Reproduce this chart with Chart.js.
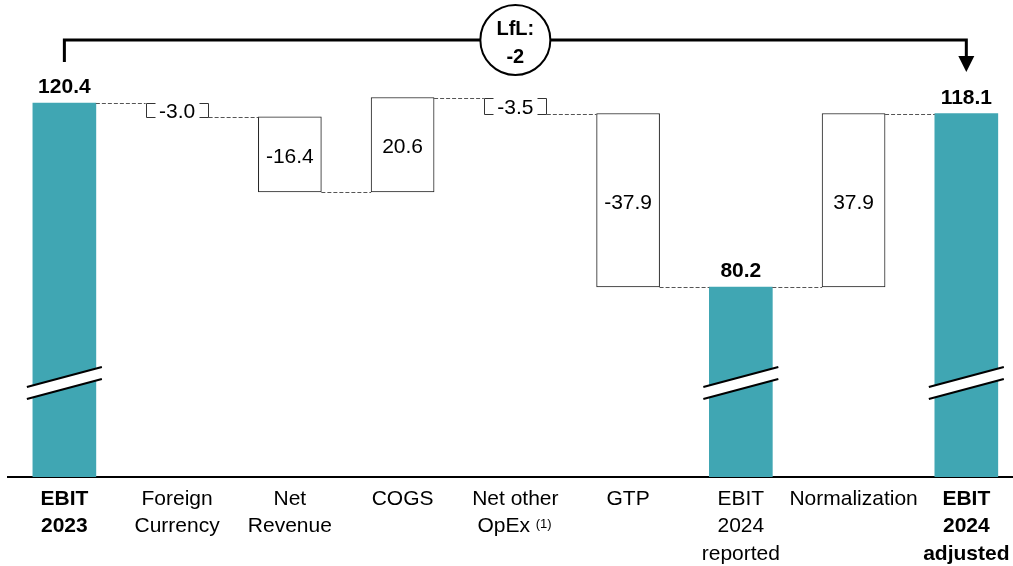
<!DOCTYPE html>
<html>
<head>
<meta charset="utf-8">
<script src="https://cdn.jsdelivr.net/npm/chart.js@4"></script>
<style>
  html, body { margin: 0; padding: 0; background: #fff; }
  #wrap { width: 1013px; height: 566px; }
</style>
</head>
<body>
<div id="wrap"><canvas id="ebit"></canvas></div>
<script>
var categories = [['EBIT', '2023'], ['Foreign', 'Currency'], ['Net', 'Revenue'], ['COGS'], ['Net other', 'OpEx'], ['GTP'], ['EBIT', '2024', 'reported'], ['Normalization'], ['EBIT', '2024', 'adjusted']];
var values = [120.4, -3.0, -16.4, 20.6, -3.5, -37.9, 80.2, 37.9, 118.1];
var kinds = ['total', 'bracket', 'step', 'step', 'bracket', 'step', 'total', 'step', 'total'];
var valueLabels = ['120.4', '-3.0', '-16.4', '20.6', '-3.5', '-37.9', '80.2', '37.9', '118.1'];
var lflLabel = ['LfL:', '-2'];
var footnote = '(1)';
var footnoteAt = 4;
var boldTicks = [0, 8];

var FONT = '"Liberation Sans", Arial, Helvetica, sans-serif';
var TEAL = '#40a6b3';

// floating ranges for the waterfall, running level after each bar
var ranges = [];
var ends = [];
var level = 0;
values.forEach(function (v, i) {
  if (kinds[i] === 'total') {
    ranges.push({ x: i, y: [0, v] });
    level = v;
  } else {
    ranges.push({ x: i, y: [level, level + v] });
    level = level + v;
  }
  ends.push(level);
});

var fills = { total: TEAL, step: '#ffffff', bracket: 'rgba(0,0,0,0)' };

var decor = {
  id: 'decor',
  afterDraw: function (chart) {
    var ctx = chart.ctx;
    var ys = chart.scales.y, xs = chart.scales.x, area = chart.chartArea;
    var bars = chart.getDatasetMeta(0).data;
    ctx.save();

    // dashed connectors
    ctx.strokeStyle = '#555';
    ctx.lineWidth = 1;
    ctx.setLineDash([4, 2]);
    for (var i = 0; i < bars.length - 1; i++) {
      var py = Math.round(ys.getPixelForValue(ends[i])) + 0.5;
      ctx.beginPath();
      ctx.moveTo(bars[i].x + bars[i].width / 2, py);
      ctx.lineTo(bars[i + 1].x - bars[i + 1].width / 2, py);
      ctx.stroke();
    }
    ctx.setLineDash([]);

    bars.forEach(function (bar, i) {
      var r = ranges[i].y;
      var top = ys.getPixelForValue(Math.max(r[0], r[1]));
      var bottom = ys.getPixelForValue(Math.min(r[0], r[1]));
      var left = bar.x - bar.width / 2, right = bar.x + bar.width / 2;
      ctx.textAlign = 'center';
      ctx.textBaseline = 'alphabetic';
      if (kinds[i] === 'total') {
        // axis break marks
        var yc = area.bottom - 94, dx = bar.width / 2 + 6, dy = 10, gap = 6;
        ctx.fillStyle = '#fff';
        ctx.beginPath();
        ctx.moveTo(bar.x - dx, yc - gap + dy);
        ctx.lineTo(bar.x + dx, yc - gap - dy);
        ctx.lineTo(bar.x + dx, yc + gap - dy);
        ctx.lineTo(bar.x - dx, yc + gap + dy);
        ctx.closePath();
        ctx.fill();
        ctx.strokeStyle = '#000';
        ctx.lineWidth = 2;
        ctx.beginPath();
        ctx.moveTo(bar.x - dx, yc - gap + dy);
        ctx.lineTo(bar.x + dx, yc - gap - dy);
        ctx.moveTo(bar.x - dx, yc + gap + dy);
        ctx.lineTo(bar.x + dx, yc + gap - dy);
        ctx.stroke();
        ctx.fillStyle = '#000';
        ctx.font = 'bold 21px ' + FONT;
        ctx.fillText(valueLabels[i], bar.x, top - 10);
      } else {
        if (kinds[i] === 'bracket') {
          var L = Math.round(left) + 0.5, R = Math.round(right) - 0.5;
          var T = Math.round(top) + 0.5, B = Math.round(bottom) + 0.5;
          ctx.strokeStyle = '#333';
          ctx.lineWidth = 1;
          ctx.beginPath();
          ctx.moveTo(L + 9, T); ctx.lineTo(L, T); ctx.lineTo(L, B); ctx.lineTo(L + 9, B);
          ctx.moveTo(R - 9, T); ctx.lineTo(R, T); ctx.lineTo(R, B); ctx.lineTo(R - 9, B);
          ctx.stroke();
        }
        ctx.fillStyle = '#000';
        ctx.font = '21px ' + FONT;
        ctx.fillText(valueLabels[i], bar.x, (top + bottom) / 2 + 8.5);
      }
    });

    // footnote marker after "OpEx"
    var lines = categories[footnoteAt];
    var last = lines[lines.length - 1];
    ctx.font = '21px ' + FONT;
    var full = ctx.measureText(last + '    ').width;
    var sx = bars[footnoteAt].x - full / 2 + ctx.measureText(last + ' ').width;
    var sy = xs.top + 8 + 21 * 1.31 * (lines.length - 0.5);
    ctx.font = '13px ' + FONT;
    ctx.textAlign = 'left';
    ctx.textBaseline = 'middle';
    ctx.fillStyle = '#000';
    ctx.fillText(footnote, sx, sy - 2);

    // LfL bracket on top
    var xl = bars[0].x, xr = bars[bars.length - 1].x, ly = area.top + 40;
    ctx.strokeStyle = '#000';
    ctx.lineWidth = 3;
    ctx.beginPath();
    ctx.moveTo(xl, area.top + 62);
    ctx.lineTo(xl, ly);
    ctx.lineTo(xr, ly);
    ctx.lineTo(xr, ly + 17);
    ctx.stroke();
    ctx.beginPath();
    ctx.moveTo(xr - 8, ly + 16);
    ctx.lineTo(xr + 8, ly + 16);
    ctx.lineTo(xr, ly + 32);
    ctx.closePath();
    ctx.fillStyle = '#000';
    ctx.fill();
    var cm = (xl + xr) / 2;
    ctx.beginPath();
    ctx.arc(cm, ly, 35, 0, Math.PI * 2);
    ctx.fillStyle = '#fff';
    ctx.fill();
    ctx.lineWidth = 2;
    ctx.stroke();
    ctx.fillStyle = '#000';
    ctx.font = 'bold 20px ' + FONT;
    ctx.textAlign = 'center';
    ctx.textBaseline = 'alphabetic';
    ctx.fillText(lflLabel[0], cm, ly - 5);
    ctx.fillText(lflLabel[1], cm, ly + 23);
    ctx.restore();
  }
};

var ctx = document.getElementById('ebit').getContext('2d');
var chart = new Chart(ctx, {
  type: 'bar',
  data: {
    datasets: [{
      label: 'EBIT',
      data: ranges,
      backgroundColor: function (c) { return fills[kinds[c.dataIndex]]; },
      borderColor: '#222',
      borderWidth: function (c) { return kinds[c.dataIndex] === 'step' ? 1 : 0; },
      borderSkipped: false,
      barThickness: 63
    }]
  },
  options: {
    responsive: true,
    maintainAspectRatio: false,
    animation: false,
    layout: { padding: { left: 8, right: 0, top: 0, bottom: 0 } },
    plugins: { legend: { display: false }, tooltip: { enabled: false } },
    scales: {
      x: {
        type: 'linear',
        min: -0.5,
        max: 8.414,
        offset: false,
        grid: { display: false, drawTicks: false },
        border: { display: true, color: '#000', width: 2 },
        afterBuildTicks: function (scale) {
          scale.ticks = categories.map(function (c, i) { return { value: i }; });
        },
        afterFit: function (scale) {
          scale.height = 89;
          scale.paddingLeft = 0;
          scale.paddingRight = 0;
        },
        ticks: {
          autoSkip: false,
          maxRotation: 0,
          padding: 8,
          color: '#000',
          font: function (c) {
            return { family: FONT, size: 21, weight: boldTicks.indexOf(c.index) >= 0 ? 'bold' : 'normal', lineHeight: 1.31 };
          },
          callback: function (v) {
            var lines = categories[v].slice();
            if (v === footnoteAt) lines[lines.length - 1] += '    ';
            return lines;
          }
        }
      },
      y: {
        display: false,
        min: 38.7,
        max: 142.9
      }
    }
  },
  plugins: [decor]
});
</script>
</body>
</html>
